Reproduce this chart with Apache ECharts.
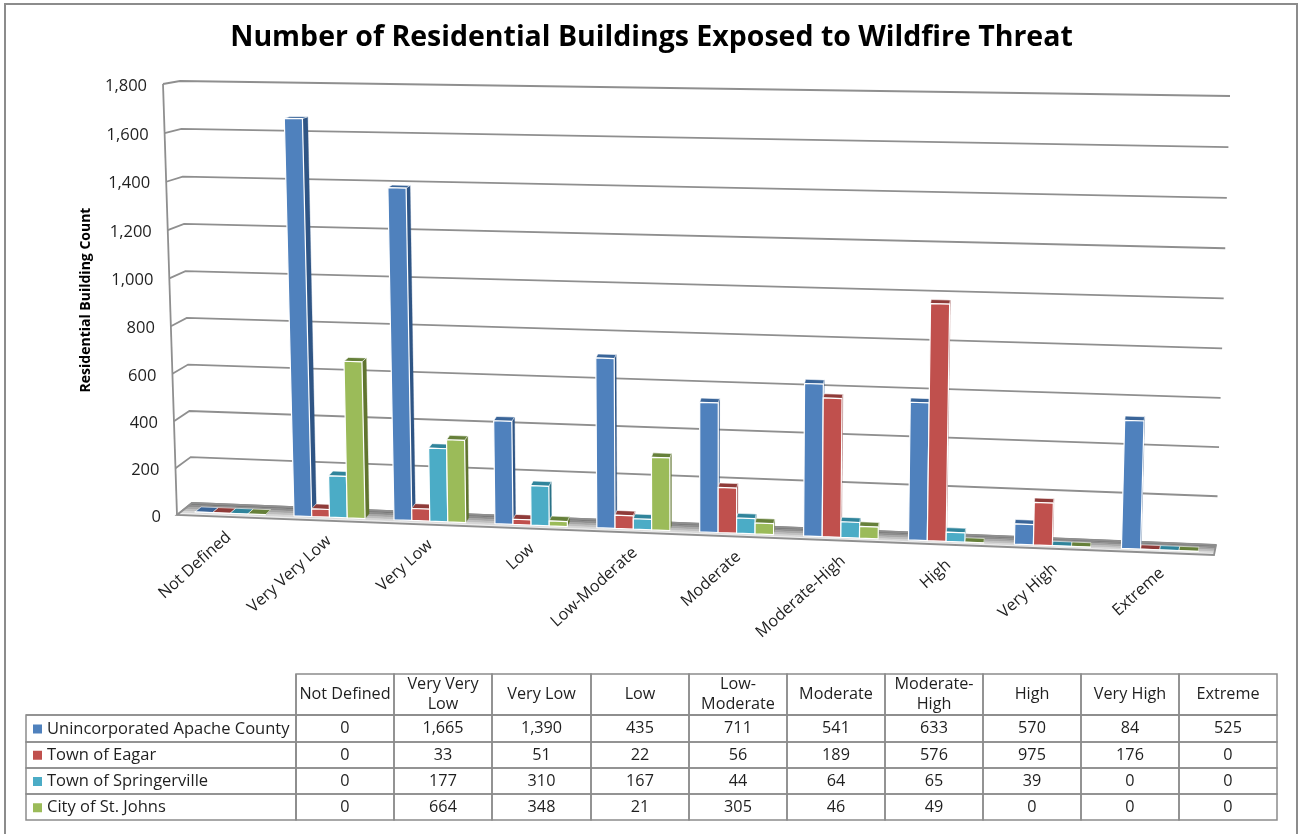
<!DOCTYPE html>
<html><head><meta charset="utf-8">
<style>html,body{margin:0;padding:0;background:#fff}#c{width:1303px;height:834px}</style>
<script src="https://cdn.jsdelivr.net/npm/echarts@6/dist/echarts.min.js"></script>
</head><body><div id="c"></div>
<script>
const categories = ['Not Defined','Very Very Low','Very Low','Low','Low-Moderate','Moderate','Moderate-High','High','Very High','Extreme'];
const tableHeads = ['Not Defined','Very Very\nLow','Very Low','Low','Low-\nModerate','Moderate','Moderate-\nHigh','High','Very High','Extreme'];
const valueTicks = [0,200,400,600,800,1000,1200,1400,1600,1800];
const cityNames = ['Unincorporated Apache County','Town of Eagar','Town of Springerville','City of St. Johns'];
const unincorporated = [0,1665,1390,435,711,541,633,570,84,525];
const eagar = [0,33,51,22,56,189,576,975,176,0];
const springerville = [0,177,310,167,44,64,65,39,0,0];
const stJohns = [0,664,348,21,305,46,49,0,0,0];
const seriesValues = [unincorporated,eagar,springerville,stJohns];
const faceColors = ['#4F81BD','#C0504D','#4BACC6','#9BBB59'];
const sideColors = ['#2F5585','#8C3836','#2A7287','#60752F'];
const topColors = ['#3A6599','#8F3B39','#30849B','#66803A'];

const FONT = '"Open Sans"';
const GRID = {left:177, top:85, width:1037, height:430};
const GRIDLINE = '#8f8f8f';

// the two planes of the 3D box, as perspective quads: [u0v0, u1v0, u1v1, u0v1]
const frontQuad = [[177,515],[1214,555],[1228,106],[163,84]];
const backQuad  = [[192,503],[1216,545],[1230,96],[180,81]];
function homography(q){
  const [[x0,y0],[x1,y1],[x2,y2],[x3,y3]] = q;
  const dx1=x1-x2, dx2=x3-x2, sx=x0-x1+x2-x3, dy1=y1-y2, dy2=y3-y2, sy=y0-y1+y2-y3;
  const det=dx1*dy2-dx2*dy1;
  const g=(sx*dy2-dx2*sy)/det, h=(dx1*sy-sx*dy1)/det;
  const a=x1-x0+g*x1, b=x3-x0+h*x3, c=x0, d=y1-y0+g*y1, e=y3-y0+h*y3, f=y0;
  return (u,v)=>{const w=g*u+h*v+1; return [(a*u+b*v+c)/w,(d*u+e*v+f)/w];};
}
const hFront=homography(frontQuad), hBack=homography(backQuad);
// grid pixel + depth -> screen pixel
function project(cs,px,py,depth){
  const u=(px-cs.x)/cs.width, v=(cs.y+cs.height-py)/cs.height;
  const a=hFront(u,v), b=hBack(u,v);
  return [a[0]+(b[0]-a[0])*depth, a[1]+(b[1]-a[1])*depth];
}

const BAR_FRACTION = 0.178, BAR_SHIFT = -0.007, D0 = 0.3, D1 = 0.72;
function barSeries(si){
  return {
    type:'custom', name:cityNames[si], coordinateSystem:'cartesian2d', silent:true,
    itemStyle:{color:faceColors[si]}, z:5+si,
    data:seriesValues[si].map((v,i)=>[i,v]),
    encode:{x:0,y:1},
    renderItem(params,api){
      const cs=params.coordSys;
      const c=api.coord([api.value(0),0]), t=api.coord([api.value(0),api.value(1)]);
      const band=api.size([1,0])[0], w=band*BAR_FRACTION;
      const x0=c[0]+(si-2)*w+band*BAR_SHIFT, x1=x0+w;
      const P=(x,y,d)=>project(cs,x,y,d);
      const line={stroke:'#ffffff',lineWidth:1.2,lineJoin:'round'};
      const poly=(pts,fill,st)=>({type:'polygon',shape:{points:pts},style:Object.assign({fill},st||line)});
      return {type:'group',children:[
        poly([P(x1,c[1],D0),P(x1,c[1],D1),P(x1,t[1],D1),P(x1,t[1],D0)],sideColors[si],{stroke:sideColors[si],lineWidth:.3}),
        poly([P(x0,t[1],D0),P(x1,t[1],D0),P(x1,t[1],D1),P(x0,t[1],D1)],topColors[si],{stroke:'#ffffff',lineWidth:.6}),
        poly([P(x0,c[1],D0),P(x1,c[1],D0),P(x1,t[1],D0),P(x0,t[1],D0)],faceColors[si])
      ]};
    }
  };
}

const wallSeries = {
  type:'custom', name:'walls', coordinateSystem:'cartesian2d', silent:true, z:1,
  data:valueTicks.map(v=>[0,v]), encode:{x:0,y:1},
  renderItem(params,api){
    const cs=params.coordSys, py=api.coord([0,api.value(1)])[1];
    const xL=cs.x, xR=cs.x+cs.width;
    const L=[project(cs,xL,py,0),project(cs,xL,py,1),project(cs,xR,py,1)];
    const kids=[{type:'polyline',shape:{points:L},style:{fill:'none',stroke:GRIDLINE,lineWidth:1.8}}];
    if(api.value(1)===0){
      kids.push({type:'polyline',shape:{points:[project(cs,xL,cs.y+cs.height,0),project(cs,xL,cs.y,0)]},style:{fill:'none',stroke:GRIDLINE,lineWidth:1.8}});
    }
    kids.push({type:'text',x:project(cs,xL,py,0)[0]-16,y:project(cs,xL,py,0)[1]+2,
      style:{text:api.value(1).toLocaleString('en-US'),fill:'#1f1f1f',fontFamily:FONT,fontSize:16.5,align:'right',verticalAlign:'middle'}});
    return {type:'group',children:kids};
  }
};

const floorShades=['#757575','#8c8c8c','#a6a6a6','#bebebe','#d6d6d6','#ececec'];
const floorSeries = {
  type:'custom', name:'floor', coordinateSystem:'cartesian2d', silent:true, z:2,
  data:[[0,0]], encode:{x:0,y:1},
  renderItem(params){
    const cs=params.coordSys, xL=cs.x, xR=cs.x+cs.width, yB=cs.y+cs.height, n=floorShades.length;
    const kids=floorShades.map((col,i)=>{
      const d1=1-i/n, d0=1-(i+1)/n;
      return {type:'polygon',shape:{points:[project(cs,xL,yB,d1),project(cs,xR,yB,d1),project(cs,xR,yB,d0),project(cs,xL,yB,d0)]},style:{fill:col,stroke:col,lineWidth:.5}};
    });
    kids.push({type:'polygon',shape:{points:[project(cs,xL,yB,1),project(cs,xR,yB,1),project(cs,xR,yB,0),project(cs,xL,yB,0)]},style:{fill:'none',stroke:GRIDLINE,lineWidth:1.8}});
    return {type:'group',children:kids};
  }
};

const catLabelSeries = {
  type:'custom', name:'category labels', coordinateSystem:'cartesian2d', silent:true, z:9,
  data:categories.map((c,i)=>[i,0]), encode:{x:0,y:1},
  renderItem(params,api){
    const cs=params.coordSys, c=api.coord([api.value(0),0]), p=project(cs,c[0],c[1],0);
    return {type:'text',x:p[0]+2,y:p[1]+18,rotation:42*Math.PI/180,
      style:{text:categories[api.value(0)],fill:'#1f1f1f',fontFamily:FONT,fontSize:16.2,align:'right',verticalAlign:'middle'}};
  }
};

const tableBody=[];
seriesValues.forEach((vals,j)=>vals.forEach((v,i)=>tableBody.push({coord:[i,j],value:v.toLocaleString('en-US')})));
const cellBorder={borderColor:'#8c8c8c',borderWidth:1.5};

const chart=echarts.init(document.getElementById('c'),null,{renderer:'canvas'});
chart.setOption({
  animation:false,
  backgroundColor:'#ffffff',
  color:faceColors,
  title:{text:'Number of Residential Buildings Exposed to Wildfire Threat',left:'center',top:18,
    textStyle:{fontFamily:FONT,fontWeight:'bold',fontSize:28.5,color:'#000'}},
  grid:GRID,
  xAxis:{type:'category',data:categories,show:false},
  yAxis:{type:'value',min:0,max:1800,interval:200,
    axisLine:{show:false},axisTick:{show:false},axisLabel:{show:false},splitLine:{show:false},
    name:'Residential Building Count',nameLocation:'middle',nameGap:84,
    nameTextStyle:{fontFamily:FONT,fontWeight:'bold',fontSize:14,color:'#000'}},
  legend:{data:cityNames,orient:'vertical',left:28,top:715,icon:'rect',itemWidth:9,itemHeight:9,itemGap:8.25,selectedMode:false,z:10,
    textStyle:{fontFamily:FONT,fontSize:16.5,color:'#1f1f1f',lineHeight:18}},
  matrix:{left:26,top:674,right:26,bottom:14,
    backgroundStyle:{color:'transparent',borderWidth:0,borderColor:'transparent'},
    x:{data:tableHeads,levelSize:41,label:{fontFamily:FONT,fontSize:16.2,color:'#1f1f1f',lineHeight:20,padding:0,overflow:'none',lineOverflow:'none'},itemStyle:cellBorder,dividerLineStyle:{color:'#8c8c8c',width:1.5}},
    y:{data:cityNames,levelSize:270,label:{show:false},itemStyle:cellBorder,dividerLineStyle:{color:'#8c8c8c',width:1.5}},
    body:{data:tableBody,label:{fontFamily:FONT,fontSize:16.2,color:'#1f1f1f',overflow:'none'},itemStyle:cellBorder},
    corner:{itemStyle:{borderWidth:0,borderColor:'transparent',color:'transparent'}}
  },
  graphic:[{type:'rect',silent:true,z:-1,shape:{x:5,y:4,width:1292,height:850},style:{fill:'none',stroke:'#8c8c8c',lineWidth:2}}],
  series:[wallSeries,floorSeries,...seriesValues.map((_,i)=>barSeries(i)),catLabelSeries]
});
</script></body></html>
